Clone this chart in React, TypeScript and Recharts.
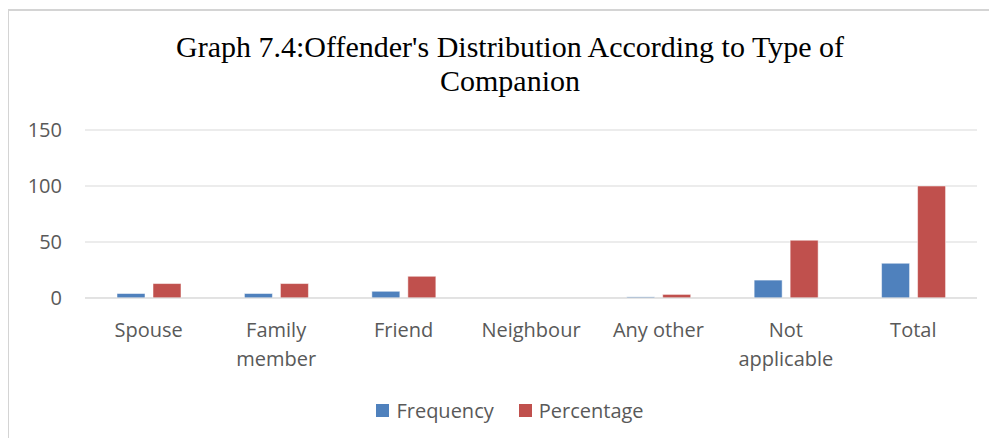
import React from 'react';
import { BarChart, Bar, XAxis, YAxis, CartesianGrid, Legend } from 'recharts';

const categories = ['Spouse', 'Family member', 'Friend', 'Neighbour', 'Any other', 'Not applicable', 'Total'];
const frequency = [4, 4, 6, 0, 1, 16, 31];
const percentage = [12.9, 12.9, 19.4, 0, 3.2, 51.6, 100];
const yTicks = [0, 50, 100, 150];

const seriesNames = ['Frequency', 'Percentage'];
const seriesColors = ['#4F81BD', '#C0504D'];

const data = categories.map((name, i) => ({
  name,
  Frequency: frequency[i],
  Percentage: percentage[i],
}));

const FONT = '"Open Sans", sans-serif';
const GREY = '#595959';

const CategoryTick = (props: any) => {
  const { x, y, payload } = props;
  const label: string = payload.value;
  const lines = label.length > 10 ? label.split(' ') : [label];
  return (
    <text x={x} y={y} textAnchor="middle" fill={GREY} fontSize={20} fontFamily={FONT}>
      {lines.map((l, i) => (
        <tspan key={i} x={x} y={y + 39 + i * 29}>{l}</tspan>
      ))}
    </text>
  );
};

const LegendContent = () => (
  <div style={{ display: 'flex', justifyContent: 'center', gap: 25, fontFamily: FONT, fontSize: 20, color: GREY }}>
    {seriesNames.map((n, i) => (
      <div key={n} style={{ display: 'flex', alignItems: 'center' }}>
        <span style={{ width: 13, height: 13, background: seriesColors[i], display: 'inline-block', marginRight: 7 }} />
        <span>{n}</span>
      </div>
    ))}
  </div>
);

const App: React.FC = () => {
  return (
    <div style={{ position: 'relative', width: 997, height: 446, margin: -8, overflow: 'hidden', background: '#fff' }}>
      <div
        style={{
          position: 'absolute', left: 0, top: 30, width: 1020, textAlign: 'center',
          fontFamily: '"Liberation Serif", "Times New Roman", serif', fontSize: 30, lineHeight: '34px', color: '#000',
        }}
      >
        Graph 7.4:Offender's Distribution According to Type of<br />Companion
      </div>
      <div style={{ position: 'absolute', left: 0, top: 0 }}>
        <BarChart
          width={997}
          height={446}
          data={data}
          margin={{ top: 130, right: 20, bottom: 48, left: 8 }}
          barGap={8}
          barSize={28}
        >
          <CartesianGrid horizontal vertical={false} stroke="#D9D9D9" />
          <XAxis
            dataKey="name"
            height={100}
            tickLine={false}
            axisLine={{ stroke: '#D9D9D9' }}
            tickSize={0}
            tickMargin={0}
            interval={0}
            tick={<CategoryTick />}
          />
          <YAxis
            width={77}
            domain={[0, 150]}
            ticks={yTicks}
            axisLine={false}
            tickLine={false}
            tickSize={0}
            tickMargin={23}
            tick={{ fill: GREY, fontSize: 20, fontFamily: FONT }}
          />
          <Legend
            verticalAlign="middle"
            align="center"
            layout="horizontal"
            content={<LegendContent />}
            wrapperStyle={{ top: 397, left: 0, width: 1020 }}
          />
          {seriesNames.map((n, i) => (
            <Bar
              key={n}
              dataKey={n}
              fill={seriesColors[i]}
              stroke="#ffffff"
              strokeOpacity={0.5}
              strokeWidth={1}
              isAnimationActive={false}
            />
          ))}
        </BarChart>
      </div>
      {/* chart frame: only left and top edges fall inside the picture */}
      <div style={{ position: 'absolute', left: 7, top: 9, width: 2, height: 437, background: '#D4D4D4', zIndex: 5 }} />
      <div style={{ position: 'absolute', left: 7, top: 9, width: 990, height: 2, background: '#D4D4D4', zIndex: 5 }} />
    </div>
  );
};

export default App;
